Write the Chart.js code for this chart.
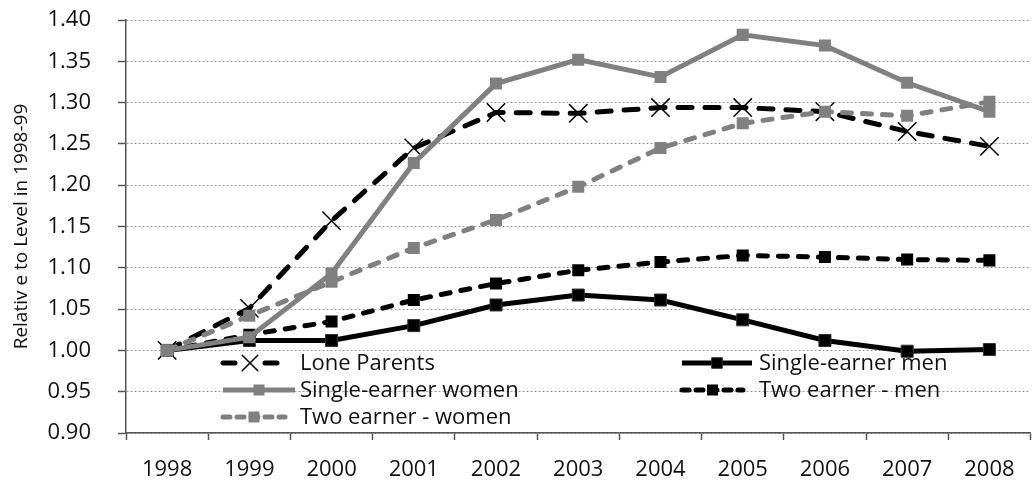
<!DOCTYPE html>
<html>
    <head>
        <meta charset="UTF-8" />
        <title>Relative to Level in 1998-99</title>
        <style type="text/css">
            html, body {
                margin: 0;
                padding: 0;
                overflow: hidden;
                background: #ffffff;
            }
            .chartBox {
                width: 1045px;
                height: 485px;
            }
        </style>
    </head>
    <body>
        <div class="chartBox">
            <canvas id="myChart" width="1045" height="485"></canvas>
        </div>

        <script src="https://cdn.jsdelivr.net/npm/chart.js"></script>
        <script>
            // years on the x axis
            const years = ['1998', '1999', '2000', '2001', '2002', '2003', '2004', '2005', '2006', '2007', '2008'];

            // series
            const loneParents       = [1.000, 1.051, 1.157, 1.245, 1.288, 1.287, 1.294, 1.294, 1.289, 1.265, 1.247];
            const singleEarnerMen   = [1.000, 1.012, 1.012, 1.030, 1.055, 1.067, 1.061, 1.037, 1.012, 0.999, 1.001];
            const singleEarnerWomen = [1.000, 1.016, 1.093, 1.227, 1.323, 1.352, 1.331, 1.382, 1.369, 1.324, 1.289];
            const twoEarnerMen      = [1.000, 1.019, 1.035, 1.061, 1.081, 1.097, 1.107, 1.115, 1.113, 1.110, 1.109];
            const twoEarnerWomen    = [1.000, 1.042, 1.083, 1.124, 1.158, 1.198, 1.245, 1.275, 1.289, 1.284, 1.301];

            const seriesNames = ['Lone Parents', 'Single-earner men', 'Single-earner women', 'Two earner - men', 'Two earner - women'];

            const yMin = 0.90;
            const yMax = 1.40;
            const yStep = 0.05;

            const FONT = "'Open Sans', 'DejaVu Sans', sans-serif";
            const GREY = '#808080';

            const data = {
                labels: years,
                datasets: [{
                    label: seriesNames[0],
                    data: loneParents,
                    borderColor: '#000',
                    backgroundColor: '#000',
                    borderWidth: 5,
                    borderDash: [14, 13],
                    borderCapStyle: 'round',
                    pointStyle: 'crossRot',
                    pointRadius: 13,
                    pointBorderWidth: 1.5,
                    pointBorderColor: '#000',
                    tension: 0,
                    order: 3
                }, {
                    label: seriesNames[1],
                    data: singleEarnerMen,
                    borderColor: '#000',
                    backgroundColor: '#000',
                    borderWidth: 5,
                    pointStyle: 'rect',
                    pointRadius: 8.5,
                    pointBorderWidth: 1,
                    pointBorderColor: '#333',
                    tension: 0,
                    order: 4
                }, {
                    label: seriesNames[2],
                    data: singleEarnerWomen,
                    borderColor: GREY,
                    backgroundColor: GREY,
                    borderWidth: 5,
                    pointStyle: 'rect',
                    pointRadius: 8.5,
                    pointBorderWidth: 0,
                    tension: 0,
                    order: 1
                }, {
                    label: seriesNames[3],
                    data: twoEarnerMen,
                    borderColor: '#000',
                    backgroundColor: '#000',
                    borderWidth: 5,
                    borderDash: [9, 11],
                    borderCapStyle: 'round',
                    pointStyle: 'rect',
                    pointRadius: 8.5,
                    pointBorderWidth: 0,
                    tension: 0,
                    order: 5
                }, {
                    label: seriesNames[4],
                    data: twoEarnerWomen,
                    borderColor: GREY,
                    backgroundColor: GREY,
                    borderWidth: 5,
                    borderDash: [9, 11],
                    borderCapStyle: 'round',
                    pointStyle: 'rect',
                    pointRadius: 8.5,
                    pointBorderWidth: 0,
                    tension: 0,
                    order: 2
                }]
            };

            // legend drawn inside the plot, two columns
            const legendSpots = [
                { ds: 0, x0: 223, x1: 277, y: 363 },
                { ds: 2, x0: 223, x1: 295, y: 390 },
                { ds: 4, x0: 223, x1: 285, y: 417 },
                { ds: 1, x0: 682, x1: 752, y: 363 },
                { ds: 3, x0: 682, x1: 743, y: 390 }
            ];
            const textX = [300, 300, 300, 759, 759];

            const insideLegend = {
                id: 'insideLegend',
                afterDatasetsDraw(chart) {
                    const ctx = chart.ctx;
                    legendSpots.forEach((spot, i) => {
                        const ds = chart.data.datasets[spot.ds];
                        ctx.save();
                        ctx.strokeStyle = ds.borderColor;
                        ctx.lineWidth = ds.borderWidth;
                        ctx.lineCap = ds.borderCapStyle || 'butt';
                        ctx.setLineDash(ds.borderDash ? [ds.borderDash[0] - 2, ds.borderDash[1] - 4] : []);
                        ctx.beginPath();
                        ctx.moveTo(spot.x0, spot.y);
                        ctx.lineTo(spot.x1, spot.y);
                        ctx.stroke();
                        ctx.setLineDash([]);
                        ctx.fillStyle = ds.backgroundColor;
                        ctx.strokeStyle = ds.pointBorderColor || ds.borderColor;
                        ctx.lineWidth = ds.pointBorderWidth || 0;
                        const cx = (spot.x0 + spot.x1) / 2;
                        if (ds.pointStyle === 'crossRot') {
                            ctx.clearRect(cx - 10, spot.y - 4, 20, 8);
                        }
                        Chart.helpers.drawPoint(ctx, {
                            pointStyle: ds.pointStyle,
                            radius: ds.pointStyle === 'crossRot' ? 11 : 7.5,
                            rotation: 0,
                            borderWidth: ds.pointBorderWidth || 0
                        }, cx, spot.y);
                        if (ds.pointBorderWidth === 0) {
                            ctx.fill();
                        }
                        ctx.fillStyle = '#111';
                        ctx.font = '22px ' + FONT;
                        ctx.textBaseline = 'middle';
                        ctx.textAlign = 'left';
                        ctx.fillText(ds.label, textX[i], spot.y + 1);
                        ctx.restore();
                    });
                }
            };

            const config = {
                type: 'line',
                data,
                options: {
                    responsive: false,
                    animation: false,
                    layout: {
                        padding: { top: 0, right: 3, left: 0, bottom: 0 }
                    },
                    plugins: {
                        legend: { display: false },
                        tooltip: { enabled: false }
                    },
                    scales: {
                        x: {
                            offset: true,
                            grid: {
                                offset: true,
                                drawOnChartArea: false,
                                tickLength: 7,
                                tickColor: '#555',
                                tickWidth: 1.5
                            },
                            border: { color: '#555', width: 1.5 },
                            ticks: {
                                color: '#111',
                                font: { family: FONT, size: 22 },
                                padding: 17,
                                maxRotation: 0
                            },
                            afterFit(scale) {
                                scale.height = 52;
                                scale.paddingLeft = 0;
                                scale.paddingRight = 0;
                            }
                        },
                        y: {
                            min: yMin,
                            max: yMax,
                            grid: {
                                color: '#999',
                                lineWidth: 1,
                                tickLength: 8,
                                tickColor: '#555',
                                tickWidth: 1.5,
                                tickBorderDash: []
                            },
                            border: { color: '#555', width: 1.5, dash: [2, 2] },
                            ticks: {
                                stepSize: yStep,
                                color: '#111',
                                font: { family: FONT, size: 22 },
                                padding: 27,
                                callback: v => v.toFixed(2)
                            },
                            title: {
                                display: true,
                                text: 'Relativ e to Level in 1998-99',
                                color: '#111',
                                font: { family: FONT, size: 19 },
                                padding: { top: 10, bottom: 0 }
                            },
                            afterFit(scale) {
                                scale.width = 126;
                                scale.paddingTop = 20;
                                scale.paddingBottom = 0;
                            }
                        }
                    }
                },
                plugins: [insideLegend]
            };

            const myChart = new Chart(
                document.getElementById('myChart'),
                config
            );
        </script>
    </body>
</html>
